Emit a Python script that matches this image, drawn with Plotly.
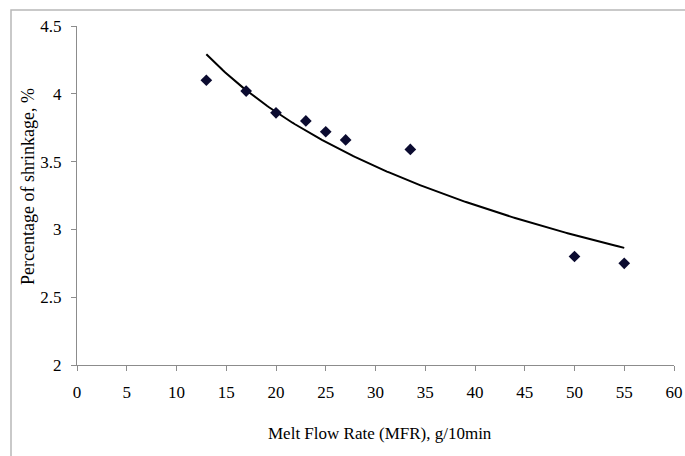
import numpy as np
import plotly.graph_objects as go

mfr = [13, 17, 20, 23, 25, 27, 33.5, 50, 55]
shrinkage = [4.10, 4.02, 3.86, 3.80, 3.72, 3.66, 3.59, 2.80, 2.75]

x_ticks = [0, 5, 10, 15, 20, 25, 30, 35, 40, 45, 50, 55, 60]
y_ticks = [2, 2.5, 3, 3.5, 4, 4.5]
y_tick_text = ["2", "2.5", "3", "3.5", "4", "4.5"]

x_title = "Melt Flow Rate (MFR), g/10min"
y_title = "Percentage of shrinkage, %"

# logarithmic trendline fitted to the data (as in the spreadsheet original)
slope, intercept = np.polyfit(np.log(mfr), shrinkage, 1)
trend_x = np.linspace(min(mfr), max(mfr), 200)
trend_y = slope * np.log(trend_x) + intercept

font = "Liberation Serif, Times New Roman, serif"

fig = go.Figure()
fig.add_trace(go.Scatter(x=trend_x, y=trend_y, mode="lines",
                         line=dict(color="black", width=2), hoverinfo="skip"))
fig.add_trace(go.Scatter(x=mfr, y=shrinkage, mode="markers",
                         marker=dict(symbol="diamond", size=9, color="#0b0b30"),
                         cliponaxis=False))

axis_common = dict(showgrid=False, zeroline=False, showline=True, linecolor="#8c8c8c",
                   linewidth=1, ticks="outside", tickcolor="#8c8c8c", ticklen=5,
                   tickfont=dict(family=font, size=17, color="black"), mirror=False,
                   automargin=False, ticklabeloverflow="allow")

W, H = 685, 456
L, R, T, B = 77, 11, 26, 91
pw, ph = W - L - R, H - T - B

fig.update_layout(
    width=W, height=H,
    margin=dict(l=L, r=R, t=T, b=B),
    paper_bgcolor="white", plot_bgcolor="white",
    showlegend=False,
    xaxis=dict(range=[0, 60], tickvals=x_ticks, ticklabelstandoff=7, **axis_common),
    yaxis=dict(range=[2, 4.5], tickvals=y_ticks, ticktext=y_tick_text,
               ticklabelstandoff=6, **axis_common),
    annotations=[
        dict(text=x_title, xref="paper", yref="paper", showarrow=False,
             x=(380 - L) / pw, y=-(433 - (H - B)) / ph, xanchor="center", yanchor="middle",
             font=dict(family=font, size=17, color="black")),
        dict(text=y_title, xref="paper", yref="paper", showarrow=False, textangle=-90,
             x=(28 - L) / pw, y=1 - (187 - T) / ph, xanchor="center", yanchor="middle",
             font=dict(family=font, size=18, color="black")),
    ],
    shapes=[dict(type="rect", xref="paper", yref="paper",
                 x0=(11 - L) / pw, x1=1.2, y0=-0.5, y1=1 + (T - 10) / ph,
                 line=dict(color="#b8b8b8", width=1.5), layer="below")],
)

fig.write_html(
    "out.html",
    config={"displayModeBar": False},
    post_script="document.body.style.margin='0';document.body.style.overflow='hidden';",
)
